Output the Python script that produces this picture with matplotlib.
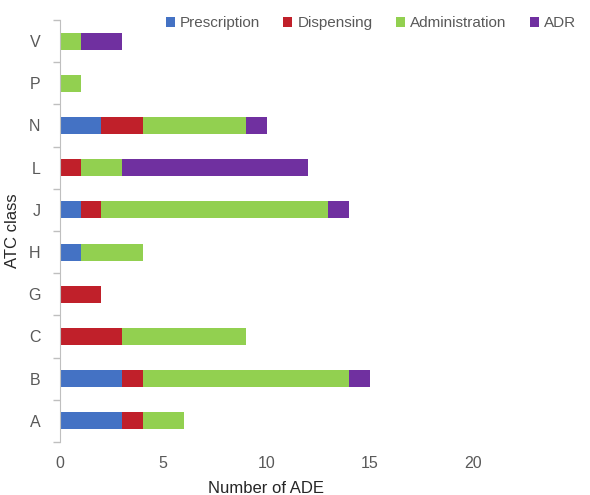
import matplotlib
matplotlib.use("Agg")
import matplotlib.pyplot as plt
import numpy as np

categories = ["A", "B", "C", "G", "H", "J", "L", "N", "P", "V"]
prescription = [3, 3, 0, 0, 1, 1, 0, 2, 0, 0]
dispensing = [1, 1, 3, 2, 0, 1, 1, 2, 0, 0]
administration = [2, 10, 6, 0, 3, 11, 2, 5, 1, 1]
adr = [0, 1, 0, 0, 0, 1, 9, 1, 0, 2]
series_names = ["Prescription", "Dispensing", "Administration", "ADR"]
colors = ["#4472C4", "#C0202A", "#92D050", "#7030A0"]

plt.rcParams['font.family'] = ['Liberation Sans', 'DejaVu Sans']
fig = plt.figure(figsize=(5.9, 4.95), dpi=100)
ax = fig.add_axes([60/590, 53/495, 413/590, 422/495])

y = np.arange(len(categories))
left = np.zeros(len(categories))
handles = []
for vals, name, c in zip([prescription, dispensing, administration, adr], series_names, colors):
    h = ax.barh(y, vals, left=left, height=0.4, color=c, label=name)
    handles.append(h)
    left += np.array(vals)

ax.set_xlim(0, 20)
ax.set_ylim(-0.5, len(categories) - 0.5)
ax.set_xticks([0, 5, 10, 15, 20])
ax.set_yticks(y)
ax.set_yticklabels(categories)
ax.set_yticks(np.arange(-0.5, len(categories), 1), minor=True)
ax.tick_params(axis='y', which='major', length=0, pad=14, labelsize=11.5, labelcolor='#595959')
ax.tick_params(axis='y', which='minor', length=5, color='#BFBFBF', width=1)
ax.tick_params(axis='x', length=0, pad=10, labelsize=11.5, labelcolor='#595959')
for s in ['top', 'right', 'bottom']:
    ax.spines[s].set_visible(False)
ax.spines['left'].set_color('#BFBFBF')

ax.set_xlabel("Number of ADE", fontsize=12, color='#262626', labelpad=7)
ax.set_ylabel("ATC class", fontsize=12, color='#262626', labelpad=6)

fig.legend(handles=handles, loc='upper right', bbox_to_anchor=(1.0, 0.995), ncol=4,
           frameon=False, fontsize=11, handlelength=0.6, handleheight=0.6,
           handletextpad=0.35, columnspacing=1.5, labelcolor='#595959')

fig.savefig("out.png", dpi=100)
